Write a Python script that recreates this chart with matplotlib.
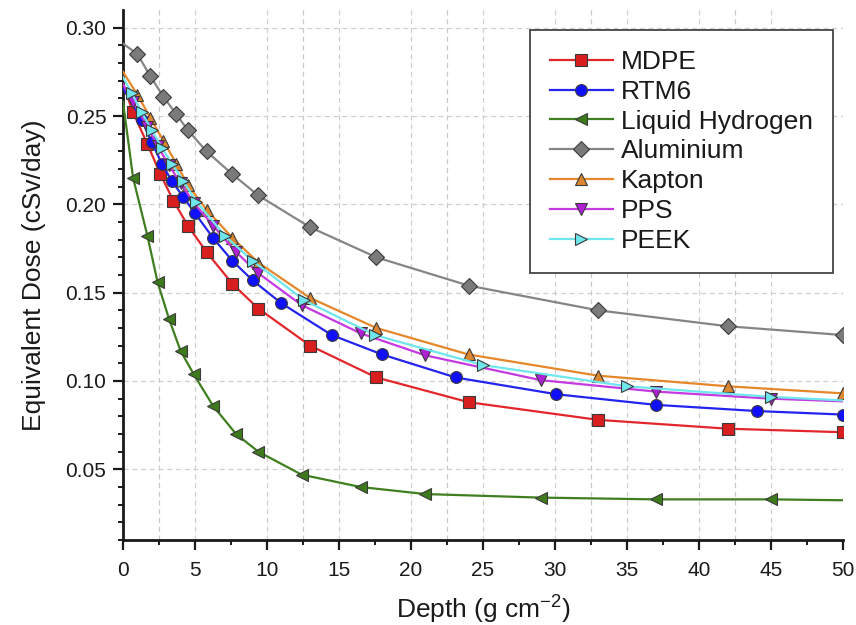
import numpy as np
import matplotlib
matplotlib.use("Agg")
import matplotlib.pyplot as plt

plt.rcParams['font.family'] = ['Liberation Sans', 'DejaVu Sans']
plt.rcParams['mathtext.default'] = 'regular'

# depth (g cm^-2) and equivalent dose (cSv/day)
mdpe_x = [0, 0.7, 1.7, 2.6, 3.5, 4.5, 5.8, 7.6, 9.4, 13, 17.6, 24, 33, 42, 50]
mdpe_y = [0.268, 0.252, 0.234, 0.217, 0.202, 0.188, 0.173, 0.155, 0.141,
          0.120, 0.102, 0.088, 0.078, 0.073, 0.071]

rtm6_x = [0, 1.3, 2.0, 2.7, 3.4, 4.2, 5.0, 6.25, 7.6, 9.0, 11.0, 14.5, 18.0,
          23.1, 30.1, 37, 44, 50]
rtm6_y = [0.266, 0.248, 0.235, 0.223, 0.213, 0.204, 0.195, 0.181, 0.168,
          0.157, 0.144, 0.126, 0.115, 0.102, 0.0925, 0.0865, 0.083, 0.081]

lh2_x = [0, 0.7, 1.7, 2.4, 3.2, 4.0, 4.9, 6.25, 7.85, 9.4, 12.4, 16.5, 21,
         29, 37, 45, 50]
lh2_y = [0.258, 0.215, 0.182, 0.156, 0.135, 0.117, 0.104, 0.086, 0.070,
         0.060, 0.047, 0.040, 0.036, 0.034, 0.033, 0.033, 0.0325]

al_x = [0, 1.0, 1.9, 2.8, 3.7, 4.5, 5.8, 7.6, 9.4, 13, 17.6, 24, 33, 42, 50]
al_y = [0.291, 0.285, 0.2725, 0.261, 0.251, 0.242, 0.230, 0.217, 0.205,
        0.187, 0.170, 0.154, 0.140, 0.131, 0.126]

kapton_x = [0, 1.0, 1.9, 2.8, 3.7, 4.5, 5.8, 7.6, 9.4, 13, 17.6, 24, 33, 42, 50]
kapton_y = [0.275, 0.262, 0.249, 0.236, 0.223, 0.211, 0.197, 0.181, 0.167,
            0.147, 0.130, 0.115, 0.103, 0.097, 0.093]

pps_x = [0, 0.7, 1.7, 2.4, 3.2, 4.0, 4.9, 6.25, 7.85, 9.4, 12.4, 16.5, 21,
         29, 37, 45, 50]
pps_y = [0.268, 0.258, 0.244, 0.233, 0.222, 0.212, 0.201, 0.188, 0.173,
         0.161, 0.143, 0.127, 0.1145, 0.1005, 0.094, 0.090, 0.0885]

peek_x = [0, 0.6, 1.3, 2.0, 2.7, 3.4, 4.2, 5.1, 7.1, 9.0, 12.6, 17.5, 25,
          35, 45, 50]
peek_y = [0.272, 0.263, 0.252, 0.242, 0.232, 0.223, 0.213, 0.2015, 0.182,
          0.168, 0.1456, 0.126, 0.109, 0.097, 0.091, 0.089]

# name, x, y, line colour, marker face, marker, marker at last point?
series = [
    ("MDPE", mdpe_x, mdpe_y, "#e3262b", "#d81e1e", "s", True),
    ("RTM6", rtm6_x, rtm6_y, "#2424f0", "#1010ff", "o", True),
    ("Liquid Hydrogen", lh2_x, lh2_y, "#3f7f1f", "#3c7a1c", "<", False),
    ("Aluminium", al_x, al_y, "#858585", "#7a7a7a", "D", True),
    ("Kapton", kapton_x, kapton_y, "#e5872a", "#dc8630", "^", True),
    ("PPS", pps_x, pps_y, "#c43ae0", "#b01ed6", "v", False),
    ("PEEK", peek_x, peek_y, "#6fe6ec", "#6fe6ec", ">", False),
]

fig = plt.figure(figsize=(8.56, 6.25), dpi=100)
ax = fig.add_axes([0.1437, 0.136, 0.841, 0.848])

for name, x, y, lc, mc, mk, last in series:
    ms = 8 if mk == "D" else 8.5
    ax.plot(x, y, color=lc, lw=1.6, marker=mk, ms=ms, mfc=mc,
            mec="#3a3a3a", mew=0.8,
            markevery=slice(1, None) if last else slice(1, -1),
            label=name, zorder=3)

ax.set_xlim(0, 50)
ax.set_ylim(0.01, 0.31)
ax.set_xticks(np.arange(0, 51, 5))
ax.set_xticks(np.arange(2.5, 50, 5), minor=True)
ax.set_yticks(np.arange(0.05, 0.301, 0.05))
ax.set_yticks(np.arange(0.01, 0.31, 0.01), minor=True)
ax.set_yticklabels(["%.2f" % v for v in np.arange(0.05, 0.301, 0.05)])

# dashed grid
ax.grid(True, which="major", color="#d0d0d0", ls=(0, (4, 3)), lw=0.9)
for gx in np.arange(2.5, 50, 10):
    ax.axvline(gx, color="#c8c8c8", ls=(0, (4, 3)), lw=0.9, zorder=0)
ax.set_axisbelow(True)

for s in ["top", "right"]:
    ax.spines[s].set_visible(False)
for s in ["left", "bottom"]:
    ax.spines[s].set_linewidth(2)
    ax.spines[s].set_color("#1a1a1a")

ax.tick_params(which="major", direction="out", length=7, width=1.6,
               labelsize=15, colors="#1a1a1a", pad=5)
ax.tick_params(axis="x", which="major", pad=8)
ax.tick_params(which="minor", direction="out", length=3.5, width=1.4,
               colors="#1a1a1a")

ax.set_xlabel("Depth (g cm$^{-2}$)", fontsize=19, color="#1a1a1a", labelpad=10)
ax.set_ylabel("Equivalent Dose (cSv/day)", fontsize=19, color="#1a1a1a",
              labelpad=14)

leg = ax.legend(loc="upper right", bbox_to_anchor=(0.986, 0.962),
                fontsize=19, frameon=True, fancybox=False, framealpha=1,
                edgecolor="#444444", handlelength=2.4, handletextpad=0.3,
                labelspacing=0.22, borderpad=0.75, borderaxespad=0)
leg.get_frame().set_linewidth(1.3)
for t in leg.get_texts():
    t.set_color("#1a1a1a")

fig.savefig("out.png", dpi=100)
